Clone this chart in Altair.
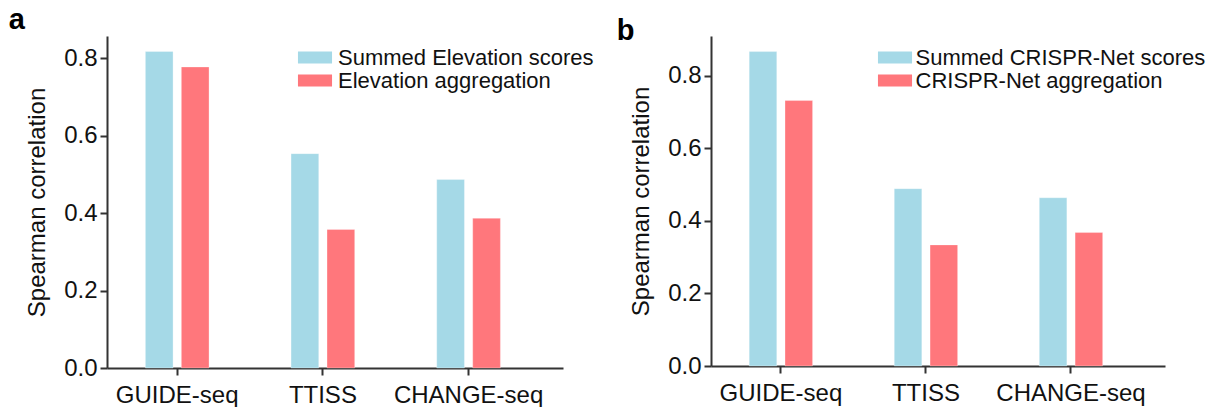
import altair as alt
import pandas as pd

# Assays compared on the x axis
methods = ["GUIDE-seq", "TTISS", "CHANGE-seq"]

# Panel a: Elevation
elev_names = ["Summed Elevation scores", "Elevation aggregation"]
elev_summed = [0.818, 0.554, 0.487]
elev_agg = [0.778, 0.358, 0.387]

# Panel b: CRISPR-Net
crispr_names = ["Summed CRISPR-Net scores", "CRISPR-Net aggregation"]
crispr_summed = [0.867, 0.489, 0.464]
crispr_agg = [0.732, 0.334, 0.368]

y_ticks = [0.0, 0.2, 0.4, 0.6, 0.8]

BLUE = "#A5D9E7"
RED = "#FF777C"
AXIS = "#333333"
FONT = "Liberation Sans"

# path for a wide rectangular legend swatch
SWATCH = "M-1.42,-0.5H1.42V0.5H-1.42Z"


def panel(letter, names, summed, agg, ymax, width, height, legend_x, legend_y,
          label_offset, letter_dx, letter_dy):
    df = pd.DataFrame({
        "method": methods * 2,
        "series": [names[0]] * len(methods) + [names[1]] * len(methods),
        "value": summed + agg,
    })
    bars = alt.Chart(df).mark_bar(stroke="white", strokeWidth=0.6, strokeOpacity=0.5).encode(
        x=alt.X(
            "method:N",
            sort=methods,
            scale=alt.Scale(paddingInner=0.563, paddingOuter=0.3465, align=0.38),
            axis=alt.Axis(
                title=None, labelAngle=0, labelFontSize=24, labelFont=FONT, labelColor="#111",
                tickSize=7, tickWidth=2, tickColor=AXIS, domainColor=AXIS, domainWidth=2,
                labelPadding=8,
            ),
        ),
        xOffset=alt.XOffset(
            "series:N", sort=names, scale=alt.Scale(paddingInner=0.23, paddingOuter=0)
        ),
        y=alt.Y(
            "value:Q",
            scale=alt.Scale(domain=[0, ymax], nice=False, zero=True),
            axis=alt.Axis(
                values=y_ticks, format=".1f", title="Spearman correlation",
                titleFontSize=24, titleFont=FONT, titleFontWeight="normal", titleColor="#111",
                titlePadding=14,
                labelFontSize=24, labelFont=FONT, labelColor="#111", labelPadding=3,
                tickSize=7, tickWidth=2, tickColor=AXIS, domainColor=AXIS, domainWidth=2,
                grid=False,
            ),
        ),
        color=alt.Color(
            "series:N",
            sort=names,
            scale=alt.Scale(domain=names, range=[BLUE, RED]),
            legend=alt.Legend(
                title=None, orient="none", legendX=legend_x, legendY=legend_y,
                symbolType=SWATCH, symbolSize=576, symbolStrokeWidth=0, symbolOpacity=1,
                labelFontSize=22, labelFont=FONT, labelColor="#111", labelOffset=label_offset,
                rowPadding=0, padding=0, labelLimit=400,
            ),
        ),
    ).properties(
        width=width,
        height=height,
        title=alt.TitleParams(
            letter, anchor="start", frame="bounds", fontSize=29, fontWeight="bold",
            font=FONT, color="#000", dx=letter_dx, dy=letter_dy, offset=0,
        ),
    )
    return bars


left = panel("a", elev_names, elev_summed, elev_agg, 0.858, 456, 332, 196, 9.5, 11, -17, -1)
right = panel("b", crispr_names, crispr_summed, crispr_agg, 0.91, 454, 330, 172, 9.5, 8.5, -13, 10)

chart = (
    alt.hconcat(left, right, spacing=22)
    .resolve_scale(color="independent", y="independent", x="independent", xOffset="independent")
    .resolve_legend(color="independent")
    .properties(padding={"left": 8, "top": 6, "right": 5, "bottom": 0}, background="white")
    .configure_view(stroke=None)
)

chart.save("out.html", embed_options={"renderer": "svg", "actions": False})
